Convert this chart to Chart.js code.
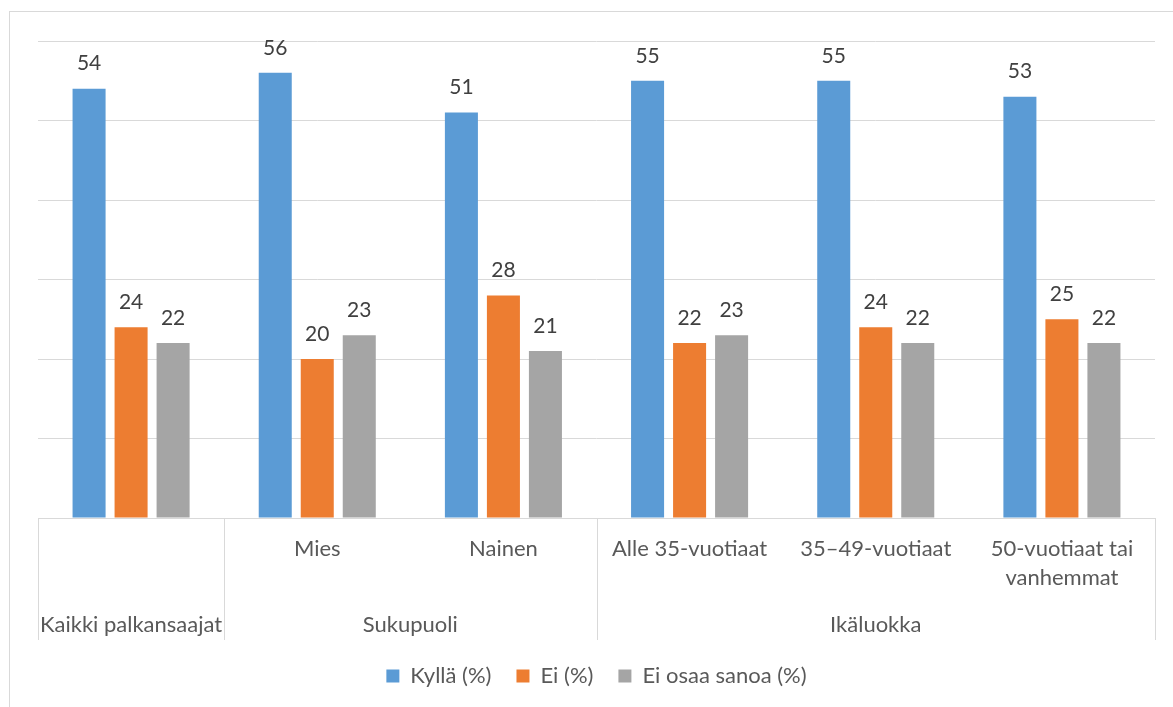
<!DOCTYPE html>
<html lang="fi">
<head>
<meta charset="utf-8">
<title>Palkansaajat</title>
<script src="https://cdn.jsdelivr.net/npm/chart.js@4.4.1/dist/chart.umd.min.js"></script>
<style>
  html, body { margin: 0; padding: 0; background: #ffffff; overflow: hidden; }
  #frame {
    position: absolute; left: 9px; top: 11px; width: 1200px; height: 720px;
    border: 1px solid #d9d9d9; box-sizing: border-box;
  }
  #chart { position: absolute; left: 0; top: 0; }
</style>
</head>
<body>
<div id="frame"></div>
<canvas id="chart" width="1173" height="707"></canvas>
<script>
// Sub-categories along the x axis (first one sits directly under its group)
const categories = ['', 'Mies', 'Nainen', 'Alle 35-vuotiaat', '35–49-vuotiaat', ['50-vuotiaat tai', 'vanhemmat']];
// Outer grouping row and how many sub-categories each group spans
const groupNames = ['Kaikki palkansaajat', 'Sukupuoli', 'Ikäluokka'];
const groupSizes = [1, 2, 3];

// Series values (%)
const kylla = [54, 56, 51, 55, 55, 53];
const ei = [24, 20, 28, 22, 24, 25];
const eiOsaa = [22, 23, 21, 23, 22, 22];
const seriesNames = ['Kyllä (%)', 'Ei (%)', 'Ei osaa sanoa (%)'];

// Value axis
const yMax = 60;
const yStep = 10;

const FONT = 'Lato, "Open Sans", sans-serif';
const TEXT = '#595959';
const GRID = '#d9d9d9';

// Value labels above each bar
const barValueLabels = {
  id: 'barValueLabels',
  afterDatasetsDraw(chart) {
    const ctx = chart.ctx;
    ctx.save();
    ctx.font = '21px ' + FONT;
    ctx.fillStyle = '#404040';
    ctx.textAlign = 'center';
    ctx.textBaseline = 'middle';
    chart.data.datasets.forEach((ds, i) => {
      const meta = chart.getDatasetMeta(i);
      meta.data.forEach((bar, j) => {
        ctx.fillText(String(ds.data[j]), bar.x, bar.y - 25);
      });
    });
    ctx.restore();
  }
};

// Second row of the category axis: group names and the separators between groups
const groupAxis = {
  id: 'groupAxis',
  afterDraw(chart) {
    const xs = chart.scales.x;
    const ctx = chart.ctx;
    const half = (xs.getPixelForValue(1) - xs.getPixelForValue(0)) / 2;
    const lineBottom = xs.top + 122;
    ctx.save();
    ctx.strokeStyle = GRID;
    ctx.lineWidth = 1;
    ctx.font = '22px ' + FONT;
    ctx.fillStyle = TEXT;
    ctx.textAlign = 'center';
    ctx.textBaseline = 'middle';
    let start = 0;
    const edge = (px) => {
      const x = Math.round(px) + 0.5;
      ctx.beginPath();
      ctx.moveTo(x, xs.top);
      ctx.lineTo(x, lineBottom);
      ctx.stroke();
    };
    groupNames.forEach((name, g) => {
      const left = xs.getPixelForValue(start) - half;
      const right = xs.getPixelForValue(start + groupSizes[g] - 1) + half;
      edge(left);
      if (g === groupNames.length - 1) edge(right);
      ctx.fillText(name, (left + right) / 2, xs.top + 107);
      start += groupSizes[g];
    });
    ctx.restore();
  }
};

new Chart(document.getElementById('chart'), {
  type: 'bar',
  data: {
    labels: categories,
    datasets: [
      { label: seriesNames[0], data: kylla, backgroundColor: '#5b9bd5' },
      { label: seriesNames[1], data: ei, backgroundColor: '#ed7d31' },
      { label: seriesNames[2], data: eiOsaa, backgroundColor: '#a5a5a5' }
    ]
  },
  options: {
    responsive: false,
    animation: false,
    devicePixelRatio: 1,
    categoryPercentage: 0.677,
    barPercentage: 0.786,
    layout: { padding: { left: 38, right: 18, top: 41, bottom: 10 } },
    scales: {
      x: {
        grid: { display: false, drawTicks: false },
        border: { display: true, color: GRID, width: 1 },
        ticks: {
          autoSkip: false, maxRotation: 0, padding: 16,
          color: TEXT, font: { family: FONT, size: 22, lineHeight: 1.32 }
        },
        afterFit(scale) { scale.height = 122; }
      },
      y: {
        min: 0, max: yMax,
        ticks: { display: false, stepSize: yStep },
        grid: { color: GRID, lineWidth: 1, drawTicks: false },
        border: { display: false }
      }
    },
    plugins: {
      legend: {
        position: 'bottom',
        labels: {
          boxWidth: 13, boxHeight: 13, padding: 25,
          color: TEXT, font: { family: FONT, size: 22 }
        }
      },
      tooltip: { enabled: false }
    }
  },
  plugins: [barValueLabels, groupAxis]
});
</script>
</body>
</html>
